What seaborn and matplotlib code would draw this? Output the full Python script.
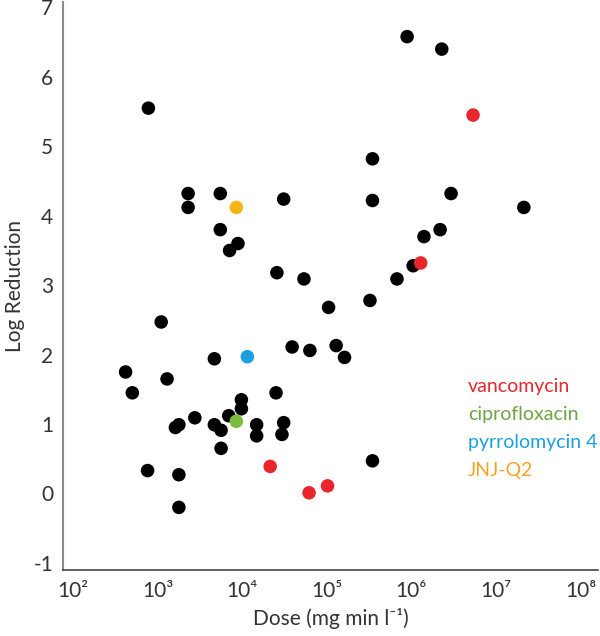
import pandas as pd
import matplotlib
matplotlib.use('Agg')
import matplotlib.pyplot as plt
import seaborn as sns

# other compounds (black)
other_dose = [776, 2290, 2290, 5500, 30900, 5500, 7080, 8900, 25700, 53700,
              1100, 891000, 2290000, 347000, 347000, 2950000, 21400000, 1410000,
              2190000, 1050000, 676000, 105000, 324000, 38900, 63100, 129000,
              162000, 347000, 417, 501, 1290, 4680, 25100, 9770, 9770, 2750,
              6920, 1620, 1780, 4680, 5620, 14800, 14800, 30900, 29500, 5620,
              759, 1780, 1780]
other_logred = [5.55, 4.32, 4.12, 4.32, 4.24, 3.80, 3.50, 3.60, 3.18, 3.09,
                2.47, 6.58, 6.40, 4.82, 4.22, 4.32, 4.12, 3.70,
                3.80, 3.28, 3.09, 2.68, 2.78, 2.11, 2.06, 2.13,
                1.96, 0.47, 1.75, 1.45, 1.65, 1.94, 1.45, 1.35, 1.22, 1.09,
                1.12, 0.95, 0.99, 0.99, 0.91, 0.99, 0.83, 1.02, 0.85, 0.65,
                0.33, 0.27, -0.20]

vanco_dose = [5370000, 1290000, 21400, 61700, 102000]
vanco_logred = [5.45, 3.32, 0.39, 0.01, 0.11]
cipro_dose = [8510]
cipro_logred = [1.04]
pyrrolo_dose = [11500]
pyrrolo_logred = [1.97]
jnj_dose = [8510]
jnj_logred = [4.12]

compounds = ['other', 'vancomycin', 'ciprofloxacin', 'pyrrolomycin 4', 'JNJ-Q2']
colors = {'other': '#000000', 'vancomycin': '#E8262B', 'ciprofloxacin': '#7CBB3F',
          'pyrrolomycin 4': '#1AA0E0', 'JNJ-Q2': '#F6B419'}
label_colors = {'vancomycin': '#E8262B', 'ciprofloxacin': '#6EA544',
                'pyrrolomycin 4': '#1AA0E0', 'JNJ-Q2': '#F5A327'}

xtick_pos = [1e2, 1e3, 1e4, 1e5, 1e6, 1e7, 1e8]
xtick_labels = ['10²', '10³', '10⁴', '10⁵', '10⁶', '10⁷', '10⁸']
ytick_pos = [-1, 0, 1, 2, 3, 4, 5, 6, 7]
ytick_labels = ['-1', '0', '1', '2', '3', '4', '5', '6', '7']

df = pd.concat([
    pd.DataFrame({'dose': other_dose, 'logred': other_logred, 'compound': 'other'}),
    pd.DataFrame({'dose': vanco_dose, 'logred': vanco_logred, 'compound': 'vancomycin'}),
    pd.DataFrame({'dose': cipro_dose, 'logred': cipro_logred, 'compound': 'ciprofloxacin'}),
    pd.DataFrame({'dose': pyrrolo_dose, 'logred': pyrrolo_logred, 'compound': 'pyrrolomycin 4'}),
    pd.DataFrame({'dose': jnj_dose, 'logred': jnj_logred, 'compound': 'JNJ-Q2'}),
], ignore_index=True)

sns.set_style('white')
plt.rcParams['font.family'] = ['Lato', 'DejaVu Sans']

fig = plt.figure(figsize=(6, 6.36), dpi=100)
ax = fig.add_axes([0.105, 0.104, 0.892, 0.893])

sns.scatterplot(data=df, x='dose', y='logred', hue='compound', hue_order=compounds,
                palette=colors, s=95, edgecolor='none', legend=False, ax=ax)

ax.set_xscale('log')
ax.set_xlim(10 ** 1.88, 10 ** 8.21)
ax.set_ylim(-1.1, 7.08)
ax.set_xticks(xtick_pos)
ax.set_xticklabels(xtick_labels)
ax.set_yticks(ytick_pos)
ax.set_yticklabels(ytick_labels)
ax.minorticks_off()
ax.tick_params(axis='both', length=0, labelsize=15, labelcolor='#333333')
ax.tick_params(axis='x', pad=8)
ax.tick_params(axis='y', pad=7)

ax.set_xlabel('Dose (mg min l⁻¹)', fontsize=15, color='#333333', labelpad=5)
ax.set_ylabel('Log Reduction', fontsize=15, color='#333333', labelpad=6)

for side in ['top', 'right']:
    ax.spines[side].set_visible(False)
ax.spines['left'].set_color('#8a8a8a')
ax.spines['left'].set_linewidth(1.5)
ax.spines['bottom'].set_color('#444444')
ax.spines['bottom'].set_linewidth(1.2)

for i, name in enumerate(compounds[1:]):
    ax.text(0.757, 0.322 - i * 0.049, name, color=label_colors[name],
            fontsize=14, transform=ax.transAxes, va='center', ha='left')

fig.savefig('out.png', dpi=100)
